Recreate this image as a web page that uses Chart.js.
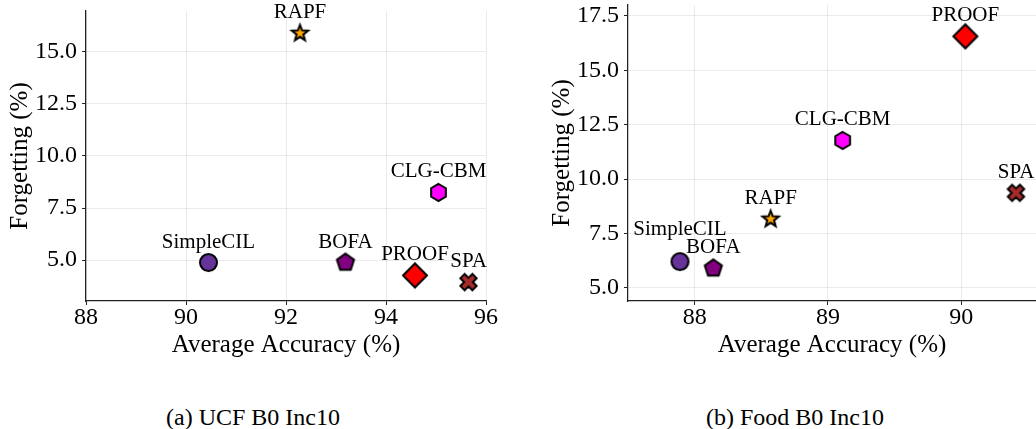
<!DOCTYPE html>
<html>
<head>
<meta charset="utf-8">
<script src="https://cdn.jsdelivr.net/npm/chart.js@4/dist/chart.umd.min.js"></script>
<style>
  body { margin: 0; background: #fff; width: 1036px; height: 429px; overflow: hidden; position: relative; }
  canvas { position: absolute; top: 0; }
  #ucf { left: 0; }
  #food { left: 520px; }
  .caption { position: absolute; top: 404px; height: 24px; line-height: 24px; font: 24px 'Liberation Serif', serif; color: #000; white-space: nowrap; transform: translateX(-50%); }
</style>
</head>
<body>
<canvas id="ucf" width="500" height="360"></canvas>
<canvas id="food" width="516" height="360"></canvas>
<div class="caption" style="left:253px">(a) UCF B0 Inc10</div>
<div class="caption" style="left:795px">(b) Food B0 Inc10</div>
<script>
// methods, same order in both panels
const methods = ['SimpleCIL', 'BOFA', 'RAPF', 'CLG-CBM', 'PROOF', 'SPA'];

// (a) UCF B0 Inc10
const ucfAccuracy = [90.45, 93.19, 92.28, 95.05, 94.58, 95.65];
const ucfForgetting = [4.88, 4.88, 15.90, 8.25, 4.26, 3.94];

// (b) Food B0 Inc10
const foodAccuracy = [87.89, 88.14, 88.57, 89.11, 90.03, 90.41];
const foodForgetting = [6.21, 5.90, 8.16, 11.78, 16.56, 9.37];

const SERIF = "'Liberation Serif', 'Times New Roman', serif";

// marker look per method
const markerStyle = {
  'SimpleCIL': { shape: 'circle', color: '#663399', r: 8.5 },
  'BOFA': { shape: 'pentagon', color: '#800080', r: 9 },
  'RAPF': { shape: 'star', color: '#ffa500', r: 8.5 },
  'CLG-CBM': { shape: 'hexagon', color: '#ff00ff', r: 8.5 },
  'PROOF': { shape: 'diamond', color: '#ff0000', r: 12 },
  'SPA': { shape: 'xfilled', color: '#a52a2a', r: 8.5 }
};

function polygon(ctx, pts) {
  ctx.beginPath();
  pts.forEach((p, i) => i ? ctx.lineTo(p[0], p[1]) : ctx.moveTo(p[0], p[1]));
  ctx.closePath();
}

function makeMarker(style) {
  const r = style.r;
  const size = Math.ceil(r * 2 + 6);
  const c = document.createElement('canvas');
  c.width = size;
  c.height = size;
  const ctx = c.getContext('2d');
  ctx.translate(size / 2, size / 2);
  ctx.fillStyle = style.color;
  ctx.strokeStyle = '#000';
  ctx.lineWidth = 2;
  ctx.lineJoin = 'miter';
  const pts = [];
  if (style.shape === 'circle') {
    ctx.beginPath();
    ctx.arc(0, 0, r, 0, Math.PI * 2);
  } else if (style.shape === 'pentagon') {
    for (let i = 0; i < 5; i++) {
      const a = -Math.PI / 2 + i * 2 * Math.PI / 5;
      pts.push([r * Math.cos(a), r * Math.sin(a)]);
    }
    polygon(ctx, pts);
  } else if (style.shape === 'hexagon') {
    for (let i = 0; i < 6; i++) {
      const a = -Math.PI / 2 + i * Math.PI / 3;
      pts.push([r * Math.cos(a), r * Math.sin(a)]);
    }
    polygon(ctx, pts);
  } else if (style.shape === 'star') {
    for (let i = 0; i < 10; i++) {
      const a = -Math.PI / 2 + i * Math.PI / 5;
      const rr = i % 2 ? r * 0.42 : r;
      pts.push([rr * Math.cos(a), rr * Math.sin(a)]);
    }
    polygon(ctx, pts);
  } else if (style.shape === 'diamond') {
    polygon(ctx, [[0, -r], [r, 0], [0, r], [-r, 0]]);
  } else if (style.shape === 'xfilled') {
    const w = r * 0.36;
    const base = [[-w, -r], [w, -r], [w, -w], [r, -w], [r, w], [w, w], [w, r], [-w, r], [-w, w], [-r, w], [-r, -w], [-w, -w]];
    const cs = Math.cos(Math.PI / 4), sn = Math.sin(Math.PI / 4);
    polygon(ctx, base.map(p => [p[0] * cs - p[1] * sn, p[0] * sn + p[1] * cs]));
  }
  ctx.fill();
  ctx.stroke();
  return c;
}

const markers = methods.map(m => makeMarker(markerStyle[m]));

// text labels above each marker
const pointLabels = {
  id: 'pointLabels',
  afterDatasetsDraw(chart) {
    const ctx = chart.ctx;
    const meta = chart.getDatasetMeta(0);
    const shift = chart.options.plugins.pointLabels.shift || {};
    ctx.save();
    ctx.font = '21px ' + SERIF;
    ctx.fillStyle = '#000';
    ctx.textAlign = 'center';
    ctx.textBaseline = 'alphabetic';
    meta.data.forEach((el, i) => {
      const name = methods[i];
      const dy = shift[name] || 0;
      ctx.fillText(name, el.x, el.y - 15 + dy);
    });
    ctx.restore();
  }
};

// keep the plot box exactly where the layout padding puts it
function noScalePadding(s) {
  s.paddingTop = 0;
  s.paddingBottom = 0;
  s.paddingLeft = 0;
  s.paddingRight = 0;
}

function makeChart(id, accuracy, forgetting, cfg) {
  const points = accuracy.map((x, i) => ({ x: x, y: forgetting[i] }));
  return new Chart(document.getElementById(id), {
    type: 'scatter',
    data: {
      datasets: [{
        data: points,
        pointStyle: markers,
        pointRadius: 10,
        pointHoverRadius: 10,
        clip: false
      }]
    },
    options: {
      responsive: false,
      animation: false,
      events: [],
      layout: { padding: cfg.padding, autoPadding: false },
      plugins: {
        legend: { display: false },
        tooltip: { enabled: false },
        pointLabels: { shift: cfg.shift }
      },
      scales: {
        x: {
          type: 'linear',
          min: cfg.xMin,
          max: cfg.xMax,
          afterFit: s => { s.height = cfg.xAxisHeight; noScalePadding(s); },
          grid: { color: 'rgba(0,0,0,0.08)', tickColor: '#222', tickLength: 4, lineWidth: 1 },
          border: { color: '#222', width: 1.25 },
          ticks: {
            stepSize: cfg.xStep,
            includeBounds: false,
            padding: -2,
            color: '#000',
            font: { family: SERIF, size: 24 },
            callback: v => String(v)
          },
          title: {
            display: true,
            text: 'Average Accuracy (%)',
            color: '#000',
            font: { family: SERIF, size: 25 },
            padding: { top: 0, bottom: 0 }
          }
        },
        y: {
          type: 'linear',
          min: cfg.yMin,
          max: cfg.yMax,
          afterFit: s => { s.width = cfg.yAxisWidth; noScalePadding(s); },
          grid: { color: 'rgba(0,0,0,0.08)', tickColor: '#222', tickLength: 4, lineWidth: 1 },
          border: { color: '#222', width: 1.25 },
          ticks: {
            stepSize: 2.5,
            includeBounds: false,
            padding: 5,
            color: '#000',
            font: { family: SERIF, size: 24 },
            callback: v => v.toFixed(1)
          },
          title: {
            display: true,
            text: 'Forgetting (%)',
            color: '#000',
            font: { family: SERIF, size: 25 },
            padding: { top: cfg.yTitlePad, bottom: 0 }
          }
        }
      }
    },
    plugins: [pointLabels]
  });
}

makeChart('ucf', ucfAccuracy, ucfForgetting, {
  xMin: 88, xMax: 96, xStep: 2,
  yMin: 3.03, yMax: 16.97,
  padding: { top: 11, right: 14, left: 0, bottom: 0 },
  xAxisHeight: 59, yAxisWidth: 86, yTitlePad: 5,
  shift: {}
});

makeChart('food', foodAccuracy, foodForgetting, {
  xMin: 87.5, xMax: 90.56, xStep: 1,
  yMin: 4.4, yMax: 18.0,
  padding: { top: 5, right: 0, left: 0, bottom: 0 },
  xAxisHeight: 59, yAxisWidth: 108, yTitlePad: 27,
  shift: { 'SimpleCIL': -12 }
});
</script>
</body>
</html>
